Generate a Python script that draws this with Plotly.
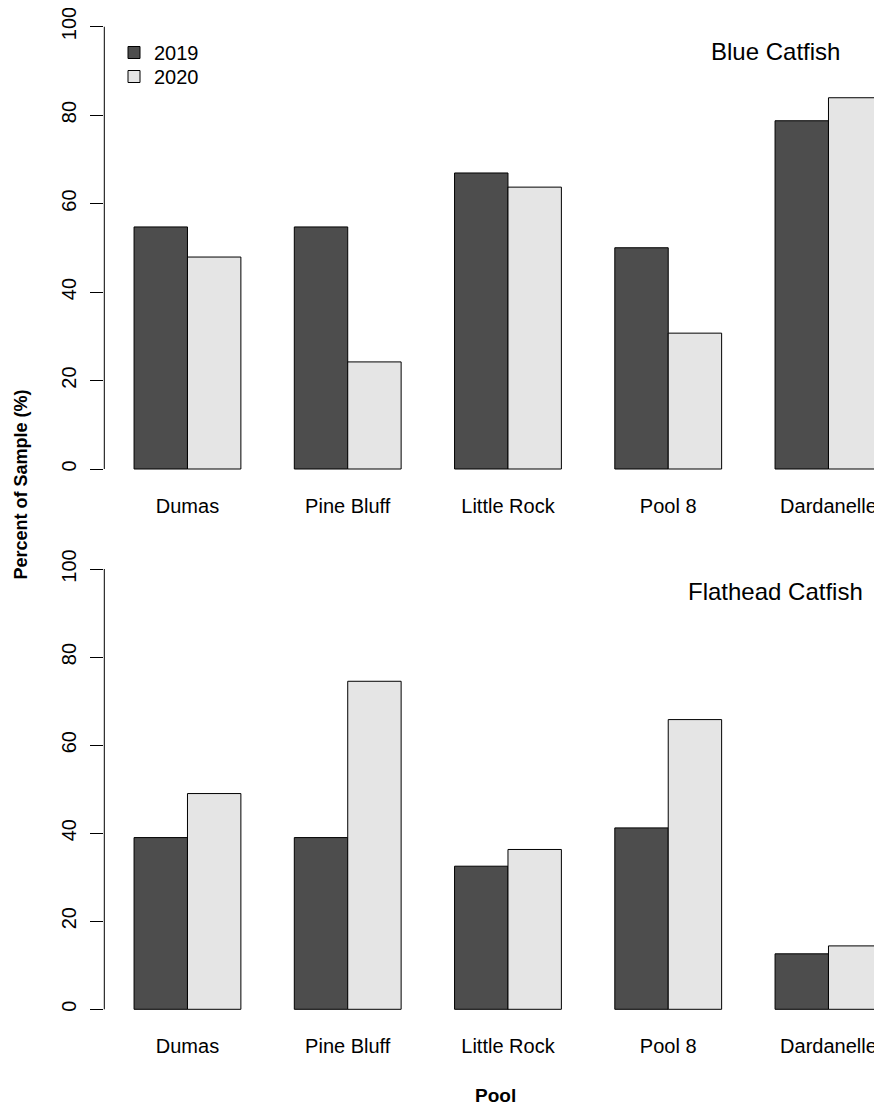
import plotly.graph_objects as go
from plotly.subplots import make_subplots

pools = ["Dumas", "Pine Bluff", "Little Rock", "Pool 8", "Dardanelle"]
years = ["2019", "2020"]
blue_2019 = [54.7, 54.7, 66.9, 50.0, 78.7]
blue_2020 = [47.9, 24.2, 63.7, 30.7, 83.9]
flat_2019 = [39.0, 39.0, 32.5, 41.2, 12.6]
flat_2020 = [49.0, 74.5, 36.3, 65.8, 14.4]
y_ticks = [0, 20, 40, 60, 80, 100]

colors = {"2019": "#4D4D4D", "2020": "#E5E5E5"}
legend_ids = {"2019": "legend", "2020": "legend2"}
FONT = "Liberation Sans, Arial, sans-serif"

# the page body has an 8px margin: the figure starts at (8, 8) in the window
OFF = 8
W, H = 882 - OFF, 1110 - OFF

fig = make_subplots(rows=2, cols=1)

panels = [
    (1, {"2019": blue_2019, "2020": blue_2020}),
    (2, {"2019": flat_2019, "2020": flat_2020}),
]
for row, data in panels:
    for yr in years:
        fig.add_trace(
            go.Bar(
                x=pools, y=data[yr], name=yr,
                marker=dict(color=colors[yr], line=dict(color="#000000", width=1)),
                showlegend=(row == 1),
                legend=legend_ids[yr],
            ),
            row=row, col=1,
        )

def px_x(p):
    return (p - OFF) / W

def px_y(p):
    return 1 - (p - OFF) / H

# window pixel positions of 0 and 100 in each panel
panel_px = [(469.0, 26.5), (1009.3, 569.0)]
ylo = -2.0
x_dom = [px_x(104.3), 1.0]
for i, (p0, p100) in enumerate(panel_px, start=1):
    scale = (p0 - p100) / 100.0
    bottom = p0 - ylo * scale
    fig.update_yaxes(
        row=i, col=1,
        domain=[px_y(bottom), px_y(p100)],
        range=[ylo, 100],
        tickvals=y_ticks,
        ticks="outside", ticklen=13, tickwidth=1, tickcolor="#000000",
        tickangle=-90,
        ticklabelstandoff=6,
        ticklabeloverflow="allow",
        tickfont=dict(family=FONT, size=20, color="#000000"),
        showgrid=False, zeroline=False, showline=False,
        automargin=False,
    )
    fig.update_xaxes(
        row=i, col=1,
        domain=x_dom,
        type="category",
        range=[-0.519, 4.334],
        showgrid=False, zeroline=False, showline=False, ticks="",
        tickfont=dict(family=FONT, size=20, color="#000000"),
        ticklabelstandoff=14,
        ticklabeloverflow="allow",
        automargin=False,
    )
    yref = "y" if i == 1 else "y2"
    xref = "x domain" if i == 1 else "x2 domain"
    fig.add_shape(type="line", xref=xref, yref=yref, x0=0, x1=0, y0=0, y1=100,
                  line=dict(color="#000000", width=1))

legend_common = dict(
    xanchor="left", yanchor="top",
    bgcolor="rgba(0,0,0,0)", font=dict(family=FONT, size=20, color="#000000"),
    borderwidth=0,
)

fig.update_layout(
    width=W, height=H,
    margin=dict(l=0, r=0, t=0, b=0, autoexpand=False),
    paper_bgcolor="#FFFFFF", plot_bgcolor="#FFFFFF",
    barmode="group", bargap=1/3, bargroupgap=0,
    font=dict(family=FONT, size=20, color="#000000"),
    legend=dict(x=px_x(114), y=px_y(33), **legend_common),
    legend2=dict(x=px_x(114), y=px_y(57), **legend_common),
    annotations=[
        dict(text="Blue Catfish", x=px_x(775), y=px_y(51), xref="paper", yref="paper",
             xanchor="center", yanchor="middle", showarrow=False,
             font=dict(family=FONT, size=24, color="#000000")),
        dict(text="Flathead Catfish", x=px_x(775), y=px_y(591), xref="paper", yref="paper",
             xanchor="center", yanchor="middle", showarrow=False,
             font=dict(family=FONT, size=24, color="#000000")),
        dict(text="<b>Percent of Sample (%)</b>", x=px_x(20), y=px_y(484.5),
             xref="paper", yref="paper", xanchor="center", yanchor="middle",
             textangle=-90, showarrow=False,
             font=dict(family=FONT, size=18, color="#000000")),
        dict(text="<b>Pool</b>", x=px_x(495), y=px_y(1095), xref="paper", yref="paper",
             xanchor="center", yanchor="middle", showarrow=False,
             font=dict(family=FONT, size=19, color="#000000")),
    ],
)

fig.write_html("out.html")
